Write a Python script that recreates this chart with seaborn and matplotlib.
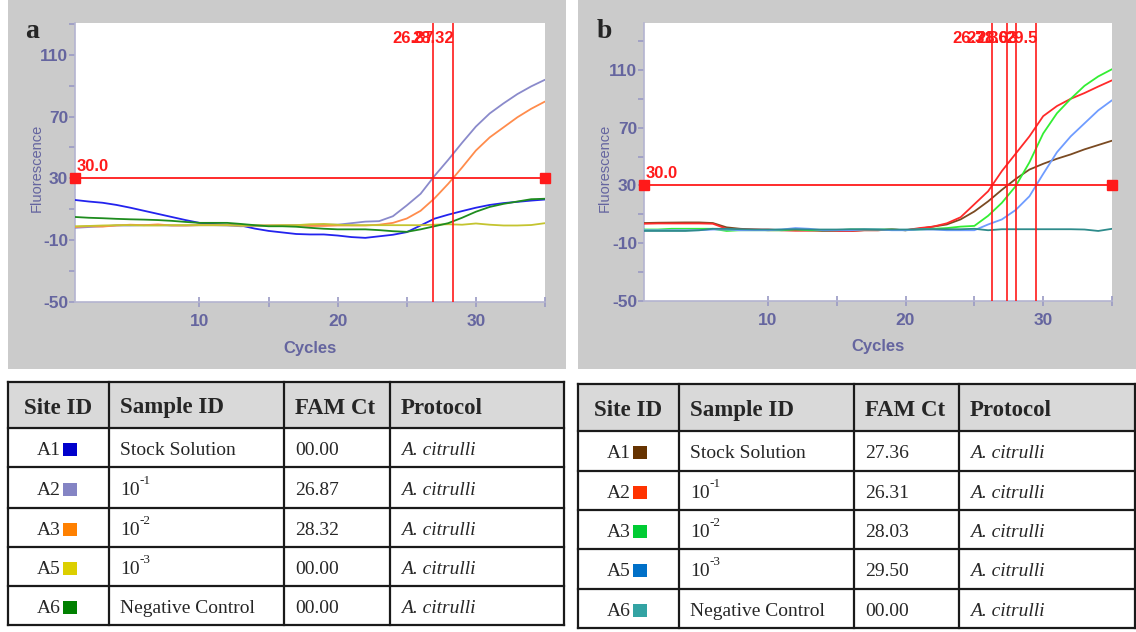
import numpy as np
import pandas as pd
import matplotlib
matplotlib.use("Agg")
import matplotlib.pyplot as plt
from matplotlib import font_manager
from matplotlib.patches import Rectangle
import seaborn as sns

# ---------------- data ----------------
cycles = list(range(1, 36))
sites = ["A1", "A2", "A3", "A5", "A6"]
# sample IDs: (base text, superscript exponent or None)
sample_ids = [("Stock Solution", None), ("10", "-1"), ("10", "-2"), ("10", "-3"),
              ("Negative Control", None)]
protocol = "A. citrulli"
threshold = 30.0

# run a: amplification curves (fluorescence per cycle)
a_A1 = [16.0, 15.0, 14.2, 12.8, 11.0, 9.0, 7.0, 5.0, 3.0, 1.2, 0.5, 0.0, -0.5, -2.5, -4.0,
        -5.0, -6.0, -6.3, -6.3, -7.0, -8.0, -8.5, -7.5, -6.5, -4.8, -0.5, 3.9, 6.5, 8.8, 11.0,
        12.8, 14.0, 14.8, 15.6, 16.3]
a_A2 = [-2.0, -1.5, -1.0, -0.5, -0.5, -0.3, -0.3, -0.5, -0.5, -0.3, -0.3, -0.5, -1.0, -0.8, -0.5,
        -0.5, -0.3, -0.3, 0.0, 0.0, 1.0, 2.0, 2.3, 5.5, 12.5, 20.0, 31.5, 42.0, 53.0, 63.5,
        72.0, 78.5, 84.5, 89.5, 93.8]
a_A3 = [-1.5, -1.0, -1.2, -0.5, 0.0, -0.3, 0.2, -0.5, -0.5, -0.3, -0.3, -0.3, -0.5, -0.5, -0.5,
        -0.5, -0.5, -0.8, -0.8, -0.5, -0.5, -0.5, 0.0, 1.2, 4.0, 9.0, 17.0, 26.5, 37.0, 48.0,
        56.5, 63.0, 69.5, 75.0, 79.7]
a_A5 = [-1.0, -0.8, -0.5, -0.3, -0.3, -0.5, -0.5, -0.3, -0.3, -0.3, -0.3, -0.3, -0.5, -0.5, -0.5,
        -0.3, -0.3, 0.3, 0.5, 0.0, -0.3, -0.3, -0.3, -0.3, -0.3, -0.3, 0.0, 0.3, 0.0, 0.8,
        0.0, -0.5, -0.5, -0.2, 1.0]
a_A6 = [5.0, 4.5, 4.2, 3.8, 3.5, 3.3, 3.0, 2.5, 1.8, 1.2, 1.2, 1.2, 0.5, -0.3, -1.0,
        -1.0, -1.3, -2.0, -2.6, -3.0, -3.0, -3.0, -3.5, -4.2, -4.6, -3.0, -1.0, 1.0, 4.5, 8.4,
        11.5, 13.5, 15.0, 16.5, 16.8]
ct_a = [0.00, 26.87, 28.32, 0.00, 0.00]

# run b
b_A1 = [4.0, 4.2, 4.3, 4.4, 4.4, 4.0, 1.0, 0.0, -0.5, -1.0, -1.0, -1.0, -1.0, -1.5, -1.5,
        -1.5, -1.0, -1.0, -0.5, -1.0, 0.0, 1.5, 3.0, 6.5, 12.0, 19.0, 27.0, 34.5, 41.0, 45.0,
        48.5, 51.5, 55.0, 58.0, 61.0]
b_A2 = [3.5, 3.7, 3.7, 3.7, 3.7, 3.5, 0.0, -0.5, -0.5, -0.5, -1.0, -1.3, -1.3, -1.0, -1.5,
        -1.5, -1.0, -1.0, -0.5, -1.0, 0.5, 1.5, 3.8, 8.0, 17.0, 26.0, 40.0, 52.0, 64.0, 78.0,
        85.0, 90.0, 94.0, 98.5, 102.8]
b_A3 = [-0.5, -0.5, 0.0, 0.0, 0.0, 0.0, -1.5, -1.0, -1.0, -1.0, -1.0, -0.5, -1.0, -1.0, -1.0,
        -0.5, -0.5, -0.5, -0.5, -1.0, -0.5, 0.0, 0.5, 1.5, 2.0, 9.0, 18.0, 29.5, 46.0, 66.0,
        80.0, 90.0, 99.0, 105.5, 110.5]
b_A5 = [-1.0, -1.0, -1.0, -1.0, -1.0, -0.5, -0.5, -1.0, -1.0, -1.0, -0.5, 0.5, 0.0, -1.0, -1.0,
        -1.0, -0.5, -0.5, -1.0, -1.0, -0.5, -0.5, -1.0, -1.0, -1.0, 3.0, 6.5, 13.0, 22.5, 38.0,
        53.0, 64.0, 73.0, 82.0, 89.0]
b_A6 = [-1.5, -1.5, -1.5, -1.5, -1.0, 0.0, 0.0, -0.3, -0.5, -0.5, -0.5, -0.3, -0.5, -0.5, -0.5,
        -0.3, -0.3, -0.5, -0.5, -0.5, -0.3, -0.3, -0.3, -0.3, 0.0, -1.0, -0.3, -0.3, -0.3, -0.3,
        -0.3, -0.3, -0.5, -1.5, 0.0]
ct_b = [27.36, 26.31, 28.03, 29.50, 0.00]

# ---------------- styling ----------------
curve_colors_a = {"A1": "#2323ee", "A2": "#8a8acb", "A3": "#ff8c4c", "A5": "#c4c430", "A6": "#1e8c1e"}
curve_colors_b = {"A1": "#7a4a22", "A2": "#ff2a2a", "A3": "#33ee33", "A5": "#6f9cff", "A6": "#2e8b8b"}
swatch_a = ["#0000cc", "#8484c4", "#ff8000", "#dccf00", "#008000"]
swatch_b = ["#663300", "#ff3300", "#00cc33", "#0070c8", "#33a3a3"]

sns.set_theme(style="white")
installed = {f.name for f in font_manager.fontManager.ttflist}
NARROW = "Liberation Sans Narrow" if "Liberation Sans Narrow" in installed else "Liberation Sans"
SANS = "Liberation Sans"
SERIF = "Liberation Serif"
plt.rcParams["font.family"] = [SANS, "DejaVu Sans"]
plt.rcParams["axes.unicode_minus"] = False

AXIS_BLUE = "#65659f"
SPINE = "#b4b4d0"
RED = "#ff1a1a"
PANEL_GREY = "#cbcbcb"

W, H = 1136, 632
fig = plt.figure(figsize=(W / 100, H / 100), dpi=100)
fig.patch.set_facecolor("white")

# full-figure canvas in pixel units for panels and tables
canvas = fig.add_axes([0, 0, 1, 1], zorder=0)
canvas.set_xlim(0, W)
canvas.set_ylim(H, 0)
canvas.axis("off")

canvas.add_patch(Rectangle((8, 0), 558, 369, color=PANEL_GREY, lw=0))
canvas.add_patch(Rectangle((578, 0), 558, 369, color=PANEL_GREY, lw=0))


def px_axes(left, top, right, bottom):
    return fig.add_axes([left / W, 1 - bottom / H, (right - left) / W, (bottom - top) / H], zorder=2)


def draw_run(ax, series, colors, cts, ylim, ylab_x):
    df = pd.DataFrame({
        "Cycle": np.tile(cycles, len(sites)),
        "Fluorescence": np.concatenate(series),
        "Site": np.repeat(sites, len(cycles)),
    })
    sns.lineplot(data=df, x="Cycle", y="Fluorescence", hue="Site", palette=colors,
                 ax=ax, legend=False, linewidth=1.3, zorder=3)
    ax.set_xlim(1, 35)
    ax.set_ylim(*ylim)
    ax.set_facecolor("white")
    for s in ("top", "right"):
        ax.spines[s].set_visible(False)
    for s in ("left", "bottom"):
        ax.spines[s].set_color(SPINE)
        ax.spines[s].set_linewidth(1.2)
    ax.set_xticks([10, 20, 30])
    ax.set_xticks([15, 25, 35], minor=True)
    ax.set_yticks([-50, -10, 30, 70, 110])
    ax.set_yticks([-30, 10, 50, 90, 130], minor=True)
    ax.tick_params(axis="x", which="both", direction="inout", length=7, width=1.2,
                   color="#9a9ac4", labelcolor=AXIS_BLUE, labelsize=12.5, pad=5, bottom=True)
    ax.tick_params(axis="y", which="both", direction="out", length=4, width=1.2,
                   color="#9a9ac4", labelcolor=AXIS_BLUE, labelsize=12.5, pad=1, left=True)
    for lab in ax.get_xticklabels() + ax.get_yticklabels():
        lab.set_fontfamily(NARROW)
        lab.set_fontweight("bold")
    ax.set_xlabel("Cycles", fontsize=12, fontweight="bold", color=AXIS_BLUE, family=NARROW)
    ax.xaxis.set_label_coords(0.5, -0.165)
    ax.xaxis.label.set_va("center")
    ax.set_ylabel("Fluorescence", fontsize=10.5, color=AXIS_BLUE, family=SANS)
    ax.yaxis.set_label_coords(ylab_x, 0.48)
    ax.yaxis.label.set_va("center")
    ax.grid(False)

    # threshold line with end handles
    ax.plot([1, 35], [threshold, threshold], color=RED, lw=1.3, marker="s", markersize=6.5,
            clip_on=False, zorder=5)
    ax.annotate(f"{threshold:.1f}", xy=(1, threshold), xytext=(1, 3), textcoords="offset points",
                ha="left", va="bottom", color=RED, fontsize=12, family=NARROW, fontweight="bold",
                zorder=6)
    # Ct markers: one vertical line per sample that crossed the threshold
    for ct in cts:
        if ct > 0:
            ax.axvline(ct, color=RED, lw=1.2, zorder=4)
            ax.annotate(f"{ct:g}", xy=(ct, 1), xycoords=("data", "axes fraction"),
                        xytext=(1, -11), textcoords="offset points", ha="right", va="center",
                        color=RED, fontsize=12, family=NARROW, fontweight="bold", zorder=6)


ax_a = px_axes(75, 23, 545, 302)
draw_run(ax_a, [a_A1, a_A2, a_A3, a_A5, a_A6], curve_colors_a, ct_a, (-50, 130.5), -0.081)
ax_b = px_axes(644, 23, 1112, 301)
draw_run(ax_b, [b_A1, b_A2, b_A3, b_A5, b_A6], curve_colors_b, ct_b, (-50, 142.5), -0.083)

canvas.text(32, 32, "a", ha="center", va="center", fontsize=20, fontweight="bold", family=SERIF)
canvas.text(604, 31, "b", ha="center", va="center", fontsize=20, fontweight="bold", family=SERIF)


def draw_table(cols, rows_y, cts, swatches):
    left, right = cols[0], cols[-1]
    top, head_bottom = rows_y[0], rows_y[1]
    canvas.add_patch(Rectangle((left, top), right - left, head_bottom - top,
                               color="#d9d9d9", lw=0, zorder=1))
    for y in rows_y:
        canvas.plot([left, right], [y, y], color="#1a1a1a", lw=1.6, zorder=2, solid_capstyle="projecting")
    for x in cols:
        canvas.plot([x, x], [top, rows_y[-1]], color="#1a1a1a", lw=1.6, zorder=2, solid_capstyle="projecting")
    hy = (top + head_bottom) / 2 + 3
    canvas.text((cols[0] + cols[1]) / 2, hy, "Site ID", ha="center", va="center",
                fontsize=16.5, fontweight="bold", family=SERIF, zorder=3)
    for ci, name in zip(range(1, 4), ["Sample ID", "FAM Ct", "Protocol"]):
        canvas.text(cols[ci] + 11, hy, name, ha="left", va="center",
                    fontsize=16.5, fontweight="bold", family=SERIF, zorder=3)
    for i in range(len(sites)):
        cy = (rows_y[i + 1] + rows_y[i + 2]) / 2 + 3
        sx = cols[0] + 53
        canvas.text(sx, cy, sites[i], ha="right", va="center", fontsize=14, family=SERIF, zorder=3)
        canvas.add_patch(Rectangle((sx + 2, cy - 8), 14, 13, color=swatches[i], lw=0, zorder=3))
        base, exp = sample_ids[i]
        t = canvas.text(cols[1] + 11, cy, base, ha="left", va="center",
                        fontsize=14, family=SERIF, zorder=3)
        if exp:
            canvas.annotate(exp, xy=(1.0, 0.72), xycoords=t, ha="left", va="bottom",
                            fontsize=9.5, family=SERIF, zorder=3)
        canvas.text(cols[2] + 11, cy, f"{cts[i]:05.2f}", ha="left", va="center",
                    fontsize=14, family=SERIF, zorder=3)
        canvas.text(cols[3] + 11, cy, protocol, ha="left", va="center",
                    fontsize=14, family=SERIF, style="italic", zorder=3)


draw_table([8, 109, 284, 390, 564], [382, 428, 467, 508, 547, 586, 625], ct_a, swatch_a)
draw_table([578, 679, 854, 959, 1135], [384, 431, 471, 510, 549, 589, 628], ct_b, swatch_b)

fig.savefig("out.png", dpi=100)
